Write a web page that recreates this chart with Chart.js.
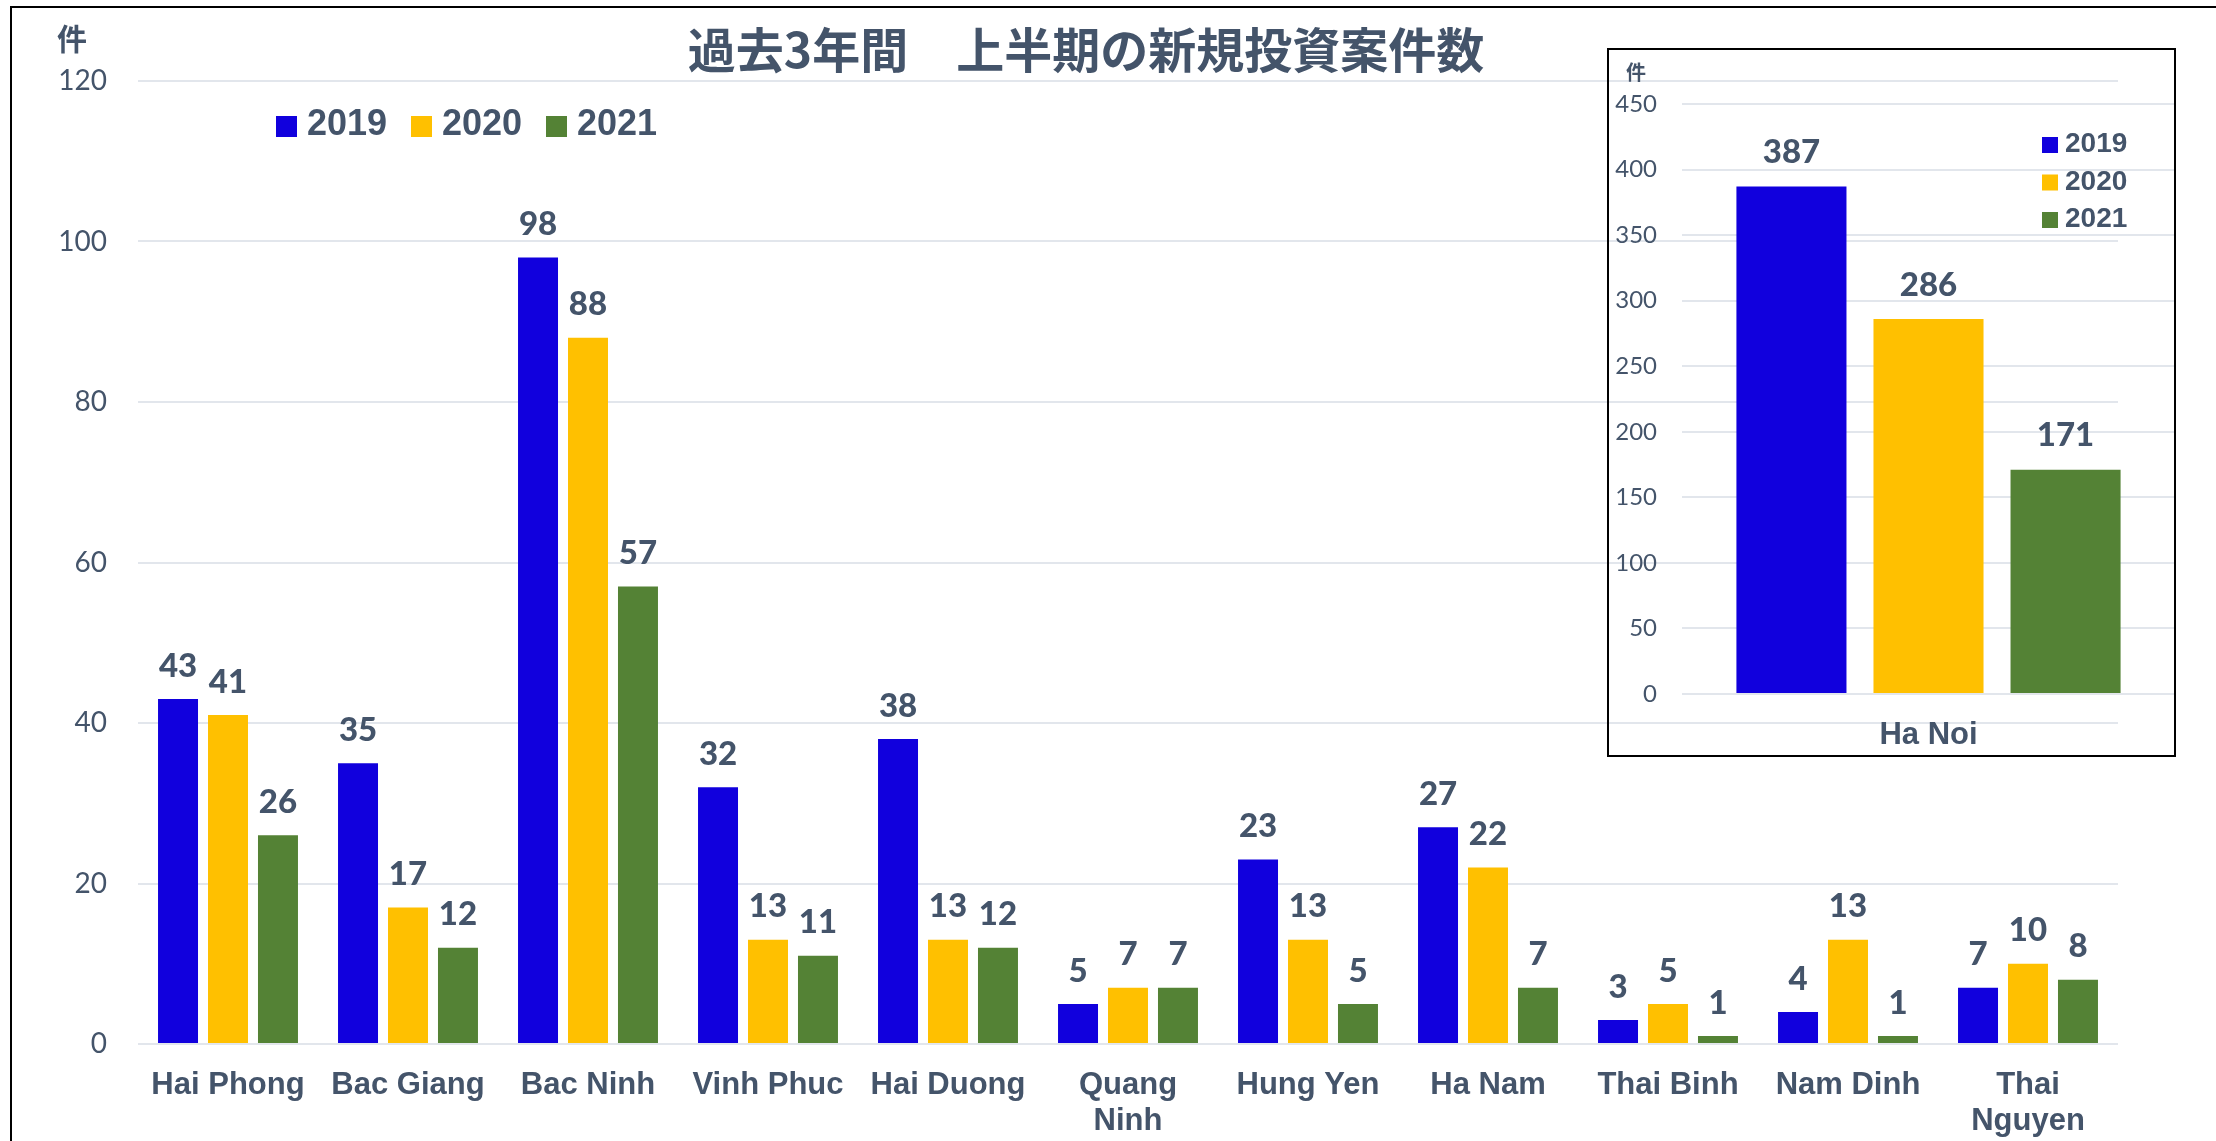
<!DOCTYPE html>
<html>
<head>
<meta charset="utf-8">
<script src="https://cdn.jsdelivr.net/npm/chart.js"></script>
<style>
  body { margin: 0; background: #fff; }
  #wrap { position: relative; width: 2216px; height: 1141px; overflow: hidden; }
  #frame { position: absolute; left: 10px; top: 6px; width: 2220px; height: 1150px;
           border-top: 2px solid #000; border-left: 2px solid #000; }
  #main { position: absolute; left: 0; top: 0; }
  #inset { position: absolute; left: 1609px; top: 50px; }
  #insetBox { position: absolute; left: 1607px; top: 48px; width: 569px; height: 709px;
              border: 2px solid #000; box-sizing: border-box; }
</style>
</head>
<body>
<div id="wrap">
  <div id="frame"></div>
  <canvas id="main" width="2216" height="1141"></canvas>
  <canvas id="inset" width="566" height="705"></canvas>
  <div id="insetBox"></div>
</div>
<script>
const years = ["2019", "2020", "2021"];
const colors = ["#1100DD", "#FFC000", "#548235"];
const textColor = "#44546A";
const gridColor = "#E2E6EC";

const provinces = ["Hai Phong", "Bac Giang", "Bac Ninh", "Vinh Phuc", "Hai Duong", ["Quang", "Ninh"],
                   "Hung Yen", "Ha Nam", "Thai Binh", "Nam Dinh", ["Thai", "Nguyen"]];
const values2019 = [43, 35, 98, 32, 38, 5, 23, 27, 3, 4, 7];
const values2020 = [41, 17, 88, 13, 13, 7, 13, 22, 5, 13, 10];
const values2021 = [26, 12, 57, 11, 12, 7, 5, 7, 1, 1, 8];

const hanoiLabel = ["Ha Noi"];
const hanoi2019 = [387];
const hanoi2020 = [286];
const hanoi2021 = [171];

const title = "過去3年間　上半期の新規投資案件数";
const unitLabel = "件";

// numbers above every bar
function valueLabels(fontSize, offset) {
  return {
    id: "valueLabels",
    afterDatasetsDraw(chart) {
      const ctx = chart.ctx;
      ctx.save();
      ctx.font = `900 ${fontSize}px Lato`;
      ctx.fillStyle = textColor;
      ctx.textAlign = "center";
      ctx.textBaseline = "middle";
      chart.data.datasets.forEach((ds, i) => {
        chart.getDatasetMeta(i).data.forEach((bar, j) => {
          ctx.fillText(ds.data[j], bar.x, bar.y - offset);
        });
      });
      ctx.restore();
    }
  };
}

// legend boxes + unit label + optional title
function extras(cfg) {
  return {
    id: "extras",
    afterDraw(chart) {
      const ctx = chart.ctx;
      ctx.save();
      ctx.fillStyle = textColor;
      ctx.textBaseline = "middle";
      ctx.textAlign = "center";
      ctx.font = `bold ${cfg.unitSize}px "Noto Sans CJK JP"`;
      ctx.fillText(unitLabel, cfg.unitX, cfg.unitY);
      if (cfg.title) {
        ctx.font = 'bold 48px "Noto Sans CJK JP"';
        ctx.fillText(title, cfg.titleX, cfg.titleY);
      }
      ctx.textAlign = "left";
      ctx.textBaseline = "alphabetic";
      ctx.font = `bold ${cfg.legendSize}px "Liberation Sans"`;
      years.forEach((y, i) => {
        const sx = cfg.legendX + i * cfg.stepX;
        const sy = cfg.legendY + i * cfg.stepY;
        ctx.fillStyle = colors[i];
        ctx.fillRect(sx, sy, cfg.box, cfg.box);
        ctx.fillStyle = textColor;
        ctx.fillText(y, sx + cfg.textGap, sy + cfg.baseOff);
      });
      ctx.restore();
    }
  };
}

function datasets(a, b, c, catPct, barPct) {
  return [a, b, c].map((d, i) => ({
    label: years[i],
    data: d,
    backgroundColor: colors[i],
    borderWidth: 0,
    categoryPercentage: catPct,
    barPercentage: barPct
  }));
}

new Chart(document.getElementById("main"), {
  type: "bar",
  data: {
    labels: provinces,
    datasets: datasets(values2019, values2020, values2021, 0.833, 0.8)
  },
  options: {
    responsive: false,
    animation: false,
    devicePixelRatio: 1,
    layout: { padding: { top: 81, right: 98, left: 0, bottom: 0 } },
    plugins: { legend: { display: false }, tooltip: { enabled: false } },
    scales: {
      x: {
        grid: { display: false },
        border: { display: false },
        ticks: {
          color: textColor, padding: 16, maxRotation: 0, autoSkip: false,
          font: { family: "Liberation Sans", weight: "bold", size: 31, lineHeight: 1.15 }
        },
        afterFit(scale) { scale.height = 97; }
      },
      y: {
        min: 0, max: 120,
        ticks: { stepSize: 20, color: textColor, padding: 31, font: { family: "Lato", size: 28 } },
        grid: { color: gridColor, lineWidth: 2, drawTicks: false },
        border: { display: false },
        afterFit(scale) { scale.width = 138; }
      }
    }
  },
  plugins: [valueLabels(33, 33), extras({
    unitSize: 30, unitX: 72, unitY: 39, title: true, titleX: 1086, titleY: 50,
    legendSize: 36, legendX: 276, legendY: 116, stepX: 135, stepY: 0, box: 21, textGap: 31, baseOff: 19
  })]
});

new Chart(document.getElementById("inset"), {
  type: "bar",
  data: {
    labels: hanoiLabel,
    datasets: datasets(hanoi2019, hanoi2020, hanoi2021, 0.834, 0.803)
  },
  options: {
    responsive: false,
    animation: false,
    devicePixelRatio: 1,
    layout: { padding: { top: 54, right: 0, left: 0, bottom: 0 } },
    plugins: { legend: { display: false }, tooltip: { enabled: false } },
    scales: {
      x: {
        grid: { display: false },
        border: { display: false },
        ticks: {
          color: textColor, padding: 15, maxRotation: 0,
          font: { family: "Liberation Sans", weight: "bold", size: 31, lineHeight: 1.2 }
        },
        afterFit(scale) { scale.height = 61; }
      },
      y: {
        min: 0, max: 450,
        ticks: { stepSize: 50, color: textColor, padding: 25, font: { family: "Lato", size: 24 } },
        grid: { color: gridColor, lineWidth: 2, drawTicks: false },
        border: { display: false },
        afterFit(scale) { scale.width = 73; }
      }
    }
  },
  plugins: [valueLabels(33, 34), extras({
    unitSize: 20, unitX: 27, unitY: 22, title: false,
    legendSize: 28, legendX: 433, legendY: 87, stepX: 0, stepY: 37.5, box: 16, textGap: 23, baseOff: 15
  })]
});
</script>
</body>
</html>
